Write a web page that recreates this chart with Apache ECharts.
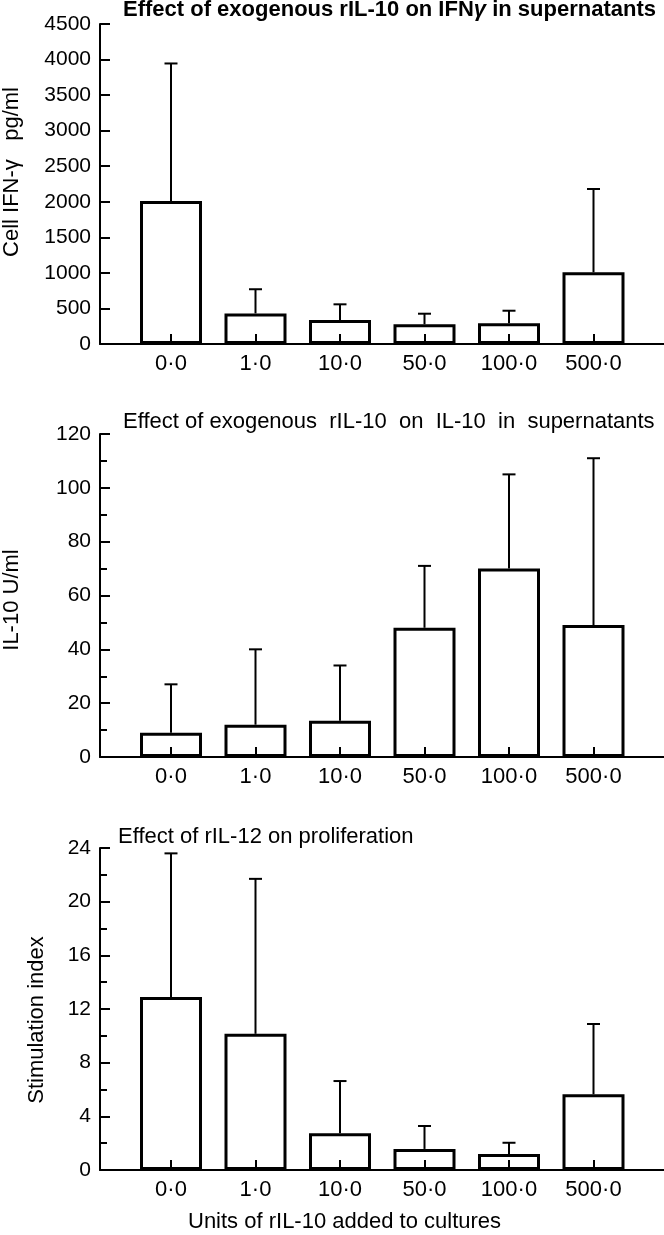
<!DOCTYPE html>
<html>
<head>
<meta charset="utf-8">
<script src="https://cdn.jsdelivr.net/npm/echarts@6/dist/echarts.min.js"></script>
<style>
html,body{margin:0;padding:0;background:#fff;}
#chart{width:664px;height:1235px;}
</style>
</head>
<body>
<div id="chart"></div>
<script>
// ---- data ----
const categories = ['0·0', '1·0', '10·0', '50·0', '100·0', '500·0'];

const ifnMean  = [2010, 430, 337, 277, 291, 1008];
const ifnUpper = [3945, 770, 558, 426, 468, 2180];

const il10Mean  = [9, 12, 13.5, 48, 70, 49];
const il10Upper = [27, 40, 34, 71, 105, 111];

const siMean  = [12.9, 10.15, 2.74, 1.57, 1.19, 5.64];
const siUpper = [23.6, 21.7, 6.63, 3.28, 2.03, 10.88];

const ifnTicks  = {min: 0, max: 4500, interval: 500};
const il10Ticks = {min: 0, max: 120, interval: 20};
const siTicks   = {min: 0, max: 24, interval: 4};

// ---- chart construction ----
const FONT = "'Liberation Sans', Arial, Helvetica, sans-serif";
const panels = [
  {top: 24, height: 320, mean: ifnMean, upper: ifnUpper, ticks: ifnTicks, minor: false,
   name: 'Cell IFN-γ   pg/ml', nameGap: 77, namePad: [0, 0, 0, 24]},
  {top: 434, height: 323, mean: il10Mean, upper: il10Upper, ticks: il10Ticks, minor: true,
   name: 'IL-10 U/ml', nameGap: 77, namePad: [0, 9, 0, 0]},
  {top: 848, height: 322, mean: siMean, upper: siUpper, ticks: siTicks, minor: true,
   name: 'Stimulation index', nameGap: 52, namePad: [0, 22, 0, 0]}
];

const grid = [], xAxis = [], yAxis = [], series = [];
panels.forEach((p, i) => {
  const gFrame = 2 * i, gBars = 2 * i + 1;
  grid.push({left: 100, right: 0, top: p.top, height: p.height, containLabel: false, outerBoundsMode: 'none'});
  grid.push({left: 128.75, width: 507, top: p.top, height: p.height, containLabel: false, outerBoundsMode: 'none'});

  xAxis.push({
    type: 'value', gridIndex: gFrame, min: 0, max: 1,
    axisLine: {show: true, onZero: false, lineStyle: {color: '#000', width: 2}},
    axisTick: {show: false}, axisLabel: {show: false}, splitLine: {show: false}
  });
  xAxis.push({
    type: 'category', gridIndex: gBars, data: categories,
    axisLine: {show: false},
    axisTick: {show: true, inside: true, alignWithLabel: true, length: 10,
               lineStyle: {color: '#000', width: 2}},
    axisLabel: {color: '#000', fontSize: 22, fontFamily: FONT, margin: 9},
    splitLine: {show: false}
  });

  yAxis.push({
    type: 'value', gridIndex: gFrame,
    min: p.ticks.min, max: p.ticks.max, interval: p.ticks.interval,
    axisLine: {show: true, onZero: false, lineStyle: {color: '#000', width: 2}},
    axisTick: {show: true, inside: true, length: 10, lineStyle: {color: '#000', width: 2}},
    minorTick: {show: p.minor, splitNumber: 2, length: 7, lineStyle: {color: '#000', width: 2}},
    axisLabel: {color: '#000', fontSize: 21, fontFamily: FONT, margin: 9,
                formatter: v => String(v)},
    splitLine: {show: false},
    name: p.name, nameLocation: 'middle', nameGap: p.nameGap, nameRotate: 90,
    nameTextStyle: {color: '#000', fontSize: 22, fontFamily: FONT, padding: p.namePad}
  });
  yAxis.push({
    type: 'value', gridIndex: gBars, show: false,
    min: p.ticks.min, max: p.ticks.max, interval: p.ticks.interval
  });

  series.push({
    type: 'bar', xAxisIndex: gBars, yAxisIndex: gBars,
    data: p.mean, barWidth: 62, silent: true, z: 3,
    itemStyle: {color: 'rgba(0,0,0,0)', borderColor: '#000', borderWidth: 3}
  });
  series.push({
    type: 'custom', xAxisIndex: gBars, yAxisIndex: gBars, silent: true, z: 2,
    encode: {x: 0, y: [1, 2]},
    data: categories.map((c, k) => [k, p.mean[k], p.upper[k]]),
    renderItem: function (params, api) {
      const idx = api.value(0);
      const base = api.coord([idx, api.value(1)]);
      const top = api.coord([idx, api.value(2)]);
      const st = {stroke: '#000', lineWidth: 2};
      return {
        type: 'group',
        children: [
          {type: 'line', shape: {x1: top[0], y1: base[1], x2: top[0], y2: top[1]}, style: st},
          {type: 'line', shape: {x1: top[0] - 6.5, y1: top[1], x2: top[0] + 6.5, y2: top[1]}, style: st}
        ]
      };
    }
  });
});

const titleStyle = {color: '#000', fontSize: 22, fontFamily: FONT, fontWeight: 'normal', lineHeight: 22};
const option = {
  animation: false,
  backgroundColor: '#fff',
  textStyle: {fontFamily: FONT},
  title: [
    {text: '{b|Effect of exogenous rIL-10 on IFN}{g|γ}{b| in supernatants}', left: 123, top: -1, padding: 0,
     textStyle: {color: '#000', fontSize: 22, fontFamily: FONT, lineHeight: 22,
       rich: {b: {fontWeight: 'bold', fontSize: 22, fontFamily: FONT, color: '#000'},
              g: {fontWeight: 'bold', fontStyle: 'italic', fontSize: 22, fontFamily: FONT, color: '#000'}}}},
    {text: 'Effect of exogenous  rIL-10  on  IL-10  in  supernatants', left: 123, top: 411, padding: 0, textStyle: titleStyle},
    {text: 'Effect of rIL-12 on proliferation', left: 118, top: 826, padding: 0, textStyle: titleStyle},
    {text: 'Units of rIL-10 added to cultures', left: 188, top: 1211, padding: 0, textStyle: titleStyle}
  ],
  grid: grid,
  xAxis: xAxis,
  yAxis: yAxis,
  series: series
};

const chart = echarts.init(document.getElementById('chart'), null, {renderer: 'canvas'});
chart.setOption(option);
</script>
</body>
</html>
